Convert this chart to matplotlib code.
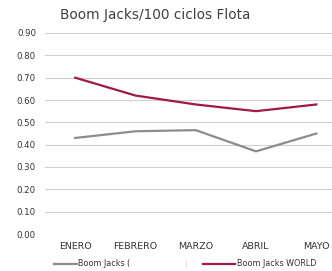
import matplotlib.pyplot as plt

months = ["ENERO", "FEBRERO", "MARZO", "ABRIL", "MAYO"]
local_vals = [0.43, 0.46, 0.465, 0.37, 0.45]
world_vals = [0.70, 0.62, 0.58, 0.55, 0.58]
yticks = [0.0, 0.1, 0.2, 0.3, 0.4, 0.5, 0.6, 0.7, 0.8, 0.9]

gray = "#8C8C8C"
red = "#A11A43"

fig = plt.figure(figsize=(3.32, 2.71), dpi=100)
ax = fig.add_axes([45 / 332, 1 - 234 / 271, 1 - 45 / 332, (234 - 33) / 271])

x = range(len(months))
ax.plot(x, local_vals, color=gray, lw=1.6)
ax.plot(x, world_vals, color=red, lw=1.6)

ax.set_ylim(0, 0.9)
ax.set_xlim(-0.5, 4.26)
ax.set_yticks(yticks)
ax.set_yticklabels([f"{v:.2f}" for v in yticks])
ax.set_xticks(list(x))
ax.set_xticklabels(months)
ax.tick_params(axis="both", length=0, colors="#333333")
ax.tick_params(axis="y", pad=6.5, labelsize=6.2)
ax.tick_params(axis="x", pad=6, labelsize=6.8)
ax.grid(axis="y", color="#CFCFCF", lw=0.8)
ax.set_axisbelow(True)
for s in ax.spines.values():
    s.set_visible(False)

fig.text(155 / 332, 1 - 15 / 271, "Boom Jacks/100 ciclos Flota", ha="center", va="center",
         fontsize=9.8, color="#404040")

# legend drawn by hand so the first label stays cut off as in the original
ly = 1 - 264 / 271
fig.add_artist(plt.Line2D([54 / 332, 77 / 332], [ly, ly], color=gray, lw=1.6))
fig.text(78 / 332, ly, "Boom Jacks (", va="center", fontsize=5.8, color="#333333")
fig.add_artist(plt.Line2D([186 / 332, 186 / 332], [ly - 0.015, ly + 0.015], color="#DDDDDD", lw=0.6))
fig.add_artist(plt.Line2D([203 / 332, 235 / 332], [ly, ly], color=red, lw=1.6))
fig.text(237 / 332, ly, "Boom Jacks WORLD", va="center", fontsize=5.8, color="#333333")

fig.savefig("out.png", dpi=100)
